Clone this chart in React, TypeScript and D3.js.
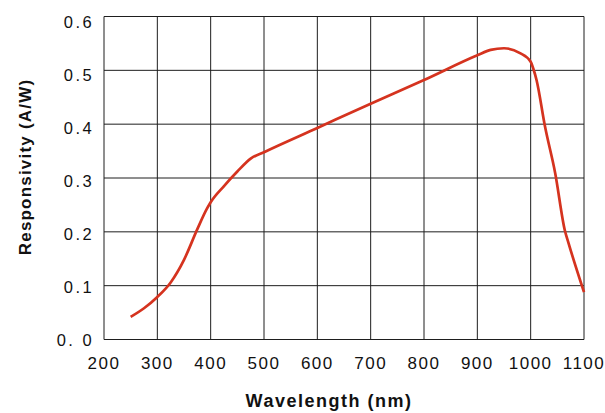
import React from "react";
import * as d3 from "d3";

const wavelengths = [250, 275, 300, 325, 350, 375, 393, 400, 425, 450, 475, 500, 600, 700, 800, 900, 925, 950, 980, 1000, 1005, 1011, 1027, 1046, 1064, 1071, 1100];
const responsivity = [0.042, 0.058, 0.079, 0.106, 0.148, 0.205, 0.243, 0.255, 0.285, 0.312, 0.336, 0.348, 0.393, 0.438, 0.482, 0.528, 0.538, 0.541, 0.532, 0.516, 0.503, 0.482, 0.395, 0.309, 0.203, 0.179, 0.088];

const xTicks = [200, 300, 400, 500, 600, 700, 800, 900, 1000, 1100];
const yTicks = [0, 0.1, 0.2, 0.3, 0.4, 0.5, 0.6];
const yTickLabels = ["0. 0", "0.1", "0.2", "0.3", "0.4", "0.5", "0.6"];

export default function App() {
  const W = 605, H = 413;
  const x = d3.scaleLinear().domain([200, 1100]).range([104, 584]);
  const y = d3.scaleLinear().domain([0, 0.6]).range([339.5, 16.5]);
  const yLabel = d3.scaleLinear().domain([0, 0.6]).range([340, 22.5]);

  const pts: [number, number][] = wavelengths.map((w, i) => [w, responsivity[i]]);
  const line = d3.line<[number, number]>()
    .x(d => x(d[0]))
    .y(d => y(d[1]))
    .curve(d3.curveMonotoneX);

  const font = "'Liberation Sans', Arial, Helvetica, sans-serif";

  return (
    <svg width={W} height={H} style={{ position: "absolute", left: 0, top: 0, background: "#fff" }}>
      <rect x={0} y={0} width={W} height={H} fill="#fff" />
      {xTicks.map(t => (
        <line key={"gx" + t} x1={x(t)} x2={x(t)} y1={y(0.6)} y2={y(0)} stroke="#1e1e1e" strokeWidth={1} />
      ))}
      {yTicks.map(t => (
        <line key={"gy" + t} x1={x(200)} x2={x(1100)} y1={y(t)} y2={y(t)} stroke="#1e1e1e" strokeWidth={1} />
      ))}
      <path d={line(pts) || ""} fill="none" stroke="#d5331f" strokeWidth={2.7} strokeLinejoin="round" strokeLinecap="butt" />
      {xTicks.map(t => (
        <text key={"tx" + t} x={x(t)} y={368.5} textAnchor="middle" fontFamily={font} fontSize={17} letterSpacing={1.5} fill="#111">
          {t}
        </text>
      ))}
      {yTicks.map((t, i) => (
        <text key={"ty" + t} x={94.2} y={yLabel(t)} dy="0.36em" textAnchor="end" fontFamily={font} fontSize={16.5} letterSpacing={2.5} fill="#111">
          {yTickLabels[i]}
        </text>
      ))}
      <text x={329} y={407} textAnchor="middle" fontFamily={font} fontSize={18} fontWeight="bold" letterSpacing={1.5} fill="#111">
        Wavelength (nm)
      </text>
      <text transform={`translate(31,167) rotate(-90)`} textAnchor="middle" fontFamily={font} fontSize={17} fontWeight="bold" letterSpacing={1.2} fill="#111">
        Responsivity (A/W)
      </text>
    </svg>
  );
}
